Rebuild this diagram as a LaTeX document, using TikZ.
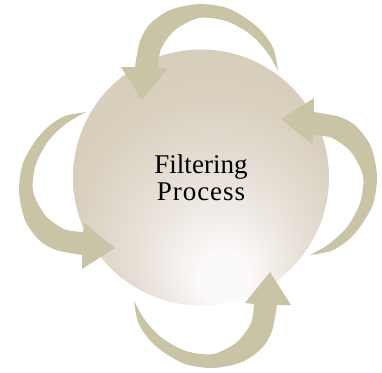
\documentclass[tikz,border=0pt]{standalone}
\usepackage{fontspec}
\setmainfont{Liberation Serif}
\usepackage{xcolor}
\definecolor{arrowtan}{RGB}{201,196,166}
\definecolor{ballrim}{RGB}{210,200,179}
\definecolor{balltan}{RGB}{216,207,189}
\definecolor{ballmid}{RGB}{231,224,215}
\definecolor{ballglow}{RGB}{251,249,249}
\pgfdeclareradialshading{ballshade}{\pgfpoint{5bp}{-22bp}}{%
  color(0bp)=(ballglow); color(5bp)=(ballglow); color(16bp)=(ballmid); color(27bp)=(balltan); color(50bp)=(ballrim)}

\begin{document}
\begin{tikzpicture}[
    x=0.02cm, y=-0.02cm,
    ball/.style={circle, shading=ballshade, minimum size=5.12cm, inner sep=0pt,
                 align=center, font=\fontsize{15.4}{15.3}\selectfont},
    loop arrow/.pic={
        \fill[arrowtan] plot[smooth] coordinates {(72,-115) (68,-136) (58,-152) (44,-165) (21,-178) (-7,-182) (-36,-176) (-56,-162) (-66,-145) (-71,-119)}
            -- (-85,-119) -- (-64,-86) -- (-39,-117) -- (-48,-118)
            -- plot[smooth] coordinates {(-48,-118) (-45,-137) (-31,-156) (-7,-168) (20,-165) (44,-152) (61,-134) (72,-115)} -- cycle;
    },
]
    \useasboundingbox (0,0) rectangle (382,372);

    % Ball
    \node[ball] (filter) at (201,177.5) {Filtering\\{\addfontfeature{LetterSpace=3.5}Process}};

    % Arrows
    \pic at (206,186) {loop arrow};
    \pic[rotate=-90] at (195,183) {loop arrow};
    \pic[rotate=180] at (206,186) {loop arrow};
    \pic[rotate=90] at (201,184) {loop arrow};
\end{tikzpicture}
\end{document}
